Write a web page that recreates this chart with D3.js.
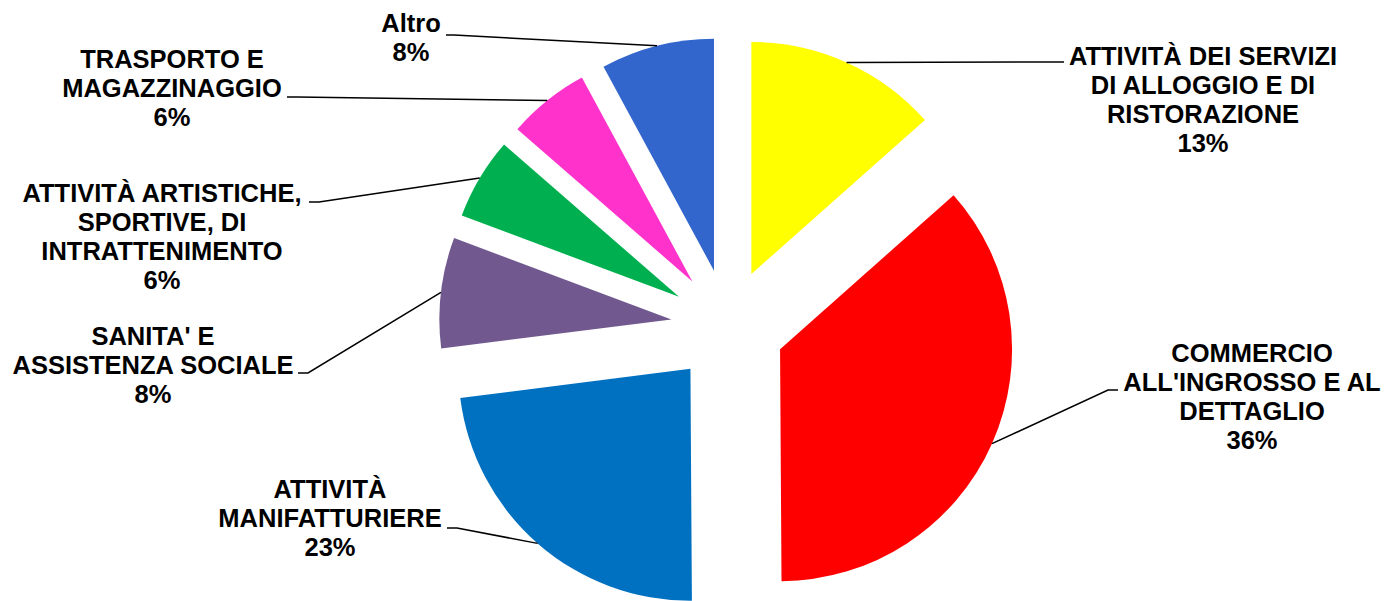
<!DOCTYPE html>
<html>
<head>
<meta charset="utf-8">
<script src="https://cdn.jsdelivr.net/npm/d3@7"></script>
<style>
  body { margin: 0; background: #fff; }
  svg text { font-family: "Liberation Sans", Arial, sans-serif; font-weight: bold; font-size: 25.5px; fill: #000; }
</style>
</head>
<body>
<svg id="chart" width="1386" height="601"></svg>
<script>
// settori e quote (%)
const categories = [
    ["ATTIVITÀ DEI SERVIZI", "DI ALLOGGIO E DI", "RISTORAZIONE"],
    ["COMMERCIO", "ALL'INGROSSO E AL", "DETTAGLIO"],
    ["ATTIVITÀ", "MANIFATTURIERE"],
    ["SANITA' E", "ASSISTENZA SOCIALE"],
    ["ATTIVITÀ ARTISTICHE,", "SPORTIVE, DI", "INTRATTENIMENTO"],
    ["TRASPORTO E", "MAGAZZINAGGIO"],
    ["Altro"]
];
const values = [13.45, 36.45, 23.1, 7.7, 5.7, 5.7, 7.9];
const pctLabels = ["13%", "36%", "23%", "8%", "6%", "6%", "8%"];

const colors = ["#FFFF00", "#FF0000", "#0070C0", "#71598F", "#00B050", "#FF33CC", "#3366CC"];

// label layout: text centre x, first baseline y, leader start, elbow
const labelPos = [
    { x: 1203, y: 65,  from: [1064, 62],  elbow: [1064, 62] },
    { x: 1252, y: 362, from: [1118, 390], elbow: [1108, 390] },
    { x: 330,  y: 498, from: [447, 528],  elbow: [457, 528] },
    { x: 153,  y: 345, from: [298, 373],  elbow: [308, 373] },
    { x: 162,  y: 202, from: [309, 202],  elbow: [319, 202] },
    { x: 172,  y: 68,  from: [287, 97],   elbow: [297, 97] },
    { x: 411,  y: 32,  from: [446, 35],   elbow: [454, 35] }
];

const cx = 728, cy = 326, radius = 232, explode = 57, lineH = 29;

const svg = d3.select('#chart');

const pie = d3.pie().sort(null).value(d => d);
const arcs = pie(values);

const arc = d3.arc().innerRadius(0).outerRadius(radius);

function offset(d, r) {
    const a = (d.startAngle + d.endAngle) / 2;
    return [Math.sin(a) * r, -Math.cos(a) * r];
}

const g = svg.append('g').attr('transform', `translate(${cx},${cy})`);

g.selectAll('path')
    .data(arcs)
    .enter()
    .append('path')
    .attr('d', arc)
    .attr('fill', (d, i) => colors[i])
    .attr('transform', d => {
        const o = offset(d, explode);
        return `translate(${o[0]},${o[1]})`;
    });

// leader lines
svg.selectAll('polyline.leader')
    .data(arcs)
    .enter()
    .append('polyline')
    .attr('class', 'leader')
    .attr('fill', 'none')
    .attr('stroke', '#000')
    .attr('stroke-width', 1.5)
    .attr('points', (d, i) => {
        const o = offset(d, explode);
        const p = offset(d, radius);
        const end = [cx + o[0] + p[0], cy + o[1] + p[1]];
        const lp = labelPos[i];
        return [lp.from, lp.elbow, end].map(q => q.join(',')).join(' ');
    });

// labels
const labels = svg.selectAll('text.lbl')
    .data(arcs)
    .enter()
    .append('text')
    .attr('class', 'lbl')
    .attr('text-anchor', 'middle');

labels.each(function(d, i) {
    const lines = categories[i].concat([pctLabels[i]]);
    const t = d3.select(this);
    lines.forEach((ln, k) => {
        t.append('tspan')
            .attr('x', labelPos[i].x)
            .attr('y', labelPos[i].y + k * lineH)
            .text(ln);
    });
});
</script>
</body>
</html>
